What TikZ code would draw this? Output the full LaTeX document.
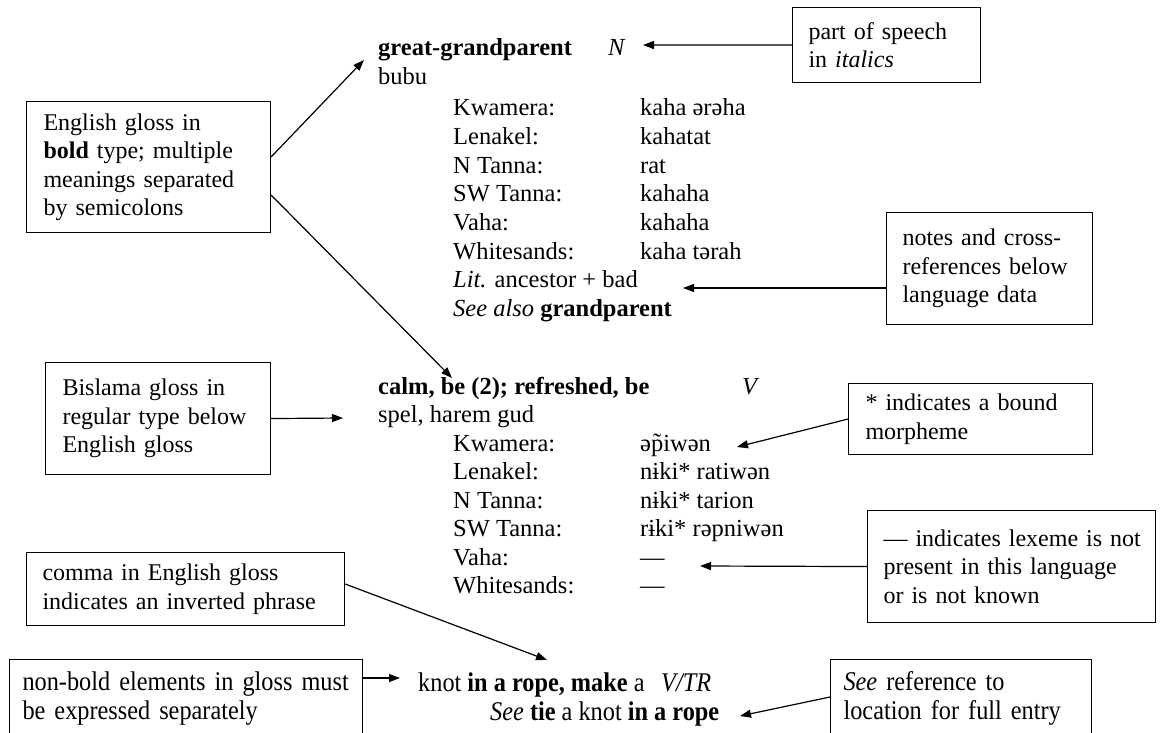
\documentclass[tikz,border=0pt]{standalone}
\usepackage{fontspec}
\setmainfont{Liberation Serif}
\newfontfamily\condfont{Liberation Serif}[FakeStretch=0.9]
\usetikzlibrary{arrows.meta,calc}
\tikzset{
  every node/.style={inner sep=0pt},
  lex/.style={anchor=base west, font=\fontsize{24.5}{28}\selectfont},
  cond/.style={anchor=base west, font=\condfont\fontsize{27}{29}\selectfont},
  boxn/.style={draw, line width=1.1pt, anchor=north west, align=left, inner ysep=0pt, font=\fontsize{24}{28.5}\selectfont},
  cbox/.style={boxn, font=\condfont\fontsize{27}{29}\selectfont, inner ysep=12pt, text depth=40pt},
  arr/.style={line width=1.2pt, -{Triangle[length=11pt,width=8pt]}},
}
\begin{document}
\begin{tikzpicture}[x=1pt,y=-1pt]
\clip (0,0) rectangle (1160,733);
\fill[white] (0,0) rectangle (1160,733);

% ---- entry 1
\node[lex] (e1h) at (378,56) {\textbf{great-grandparent}};
\node[lex] (e1pos) at (608,56) {\textit{N}};
\node[lex] (e1g) at (378,85) {bubu};
\node[lex] (e1l1) at (453,116) {Kwamera:};
\node[lex] (e1f1) at (640,116) {kaha ərəha};
\node[lex] (e1l2) at (453,144.6) {Lenakel:};
\node[lex] (e1f2) at (640,144.6) {kahatat};
\node[lex] (e1l3) at (453,173.2) {N Tanna:};
\node[lex] (e1f3) at (640,173.2) {rat};
\node[lex] (e1l4) at (453,201.8) {SW Tanna:};
\node[lex] (e1f4) at (640,201.8) {kahaha};
\node[lex] (e1l5) at (453,230.4) {Vaha:};
\node[lex] (e1f5) at (640,230.4) {kahaha};
\node[lex] (e1l6) at (453,259) {Whitesands:};
\node[lex] (e1f6) at (640,259) {kaha tərah};
\node[lex] (e1lit) at (453,287.6) {\textit{Lit.} ancestor + bad};
\node[lex] (e1see) at (453,316.2) {\textit{See also} \textbf{grandparent}};

% ---- entry 2
\node[lex] (e2h) at (378,394) {\textbf{calm, be (2); refreshed, be}};
\node[lex] (e2pos) at (742,394) {\textit{V}};
\node[lex] (e2g) at (378,422.5) {spel, harem gud};
\node[lex] (e2l1) at (453,451) {Kwamera:};
\node[lex] (e2f1) at (640,451) {əp̃iwən};
\node[lex] (e2l2) at (453,479.5) {Lenakel:};
\node[lex] (e2f2) at (640,479.5) {nɨki* ratiwən};
\node[lex] (e2l3) at (453,508) {N Tanna:};
\node[lex] (e2f3) at (640,508) {nɨki* tarion};
\node[lex] (e2l4) at (453,536.5) {SW Tanna:};
\node[lex] (e2f4) at (640,536.5) {rɨki* rəpniwən};
\node[lex] (e2l5) at (453,565) {Vaha:};
\node[lex] (e2f5) at (640,565) {—};
\node[lex] (e2l6) at (453,593.5) {Whitesands:};
\node[lex] (e2f6) at (640,593.5) {—};

% ---- entry 3
\node[cond] (e3h) at (418,691) {knot \textbf{in a rope, make} a};
\node[cond] (e3pos) at (661,691) {\textit{V/TR}};
\node[cond] (e3see) at (490,720) {\textit{See} \textbf{tie} a knot \textbf{in a rope}};

% ---- boxes
\node[boxn, inner xsep=17pt, text width=210pt, minimum height=131pt] (eg) at (26,101)
  {English gloss in\\\textbf{bold} type; multiple\\meanings separated\\by semicolons};
\node[boxn, inner xsep=16pt, text width=156pt, minimum height=75pt] (pos) at (792,7)
  {part of speech\\in \textit{italics}};
\node[boxn, inner xsep=16pt, text width=174pt, minimum height=112pt] (notes) at (886,212)
  {notes and cross-\\references below\\language data};
\node[boxn, inner xsep=17pt, text width=191pt, minimum height=112pt] (bis) at (45,362)
  {Bislama gloss in\\regular type below\\English gloss};
\node[boxn, inner xsep=17pt, text width=210pt, minimum height=71pt] (morph) at (848,383)
  {* indicates a bound\\morpheme};
\node[boxn, inner xsep=16pt, text width=256pt, minimum height=112pt] (lexm) at (867,510)
  {\mbox{— indicates lexeme is not}\\present in this language\\or is not known};
\node[boxn, inner xsep=16pt, text width=286pt, minimum height=73pt] (comma) at (26,552)
  {comma in English gloss\\indicates an inverted phrase};
\node[cbox, inner xsep=13pt, text width=327pt] (nb) at (9,659)
  {non-bold elements in gloss must\\be expressed separately};
\node[cbox, inner xsep=13pt, text width=235pt] (sr) at (830,659)
  {\textit{See} reference to\\location for full entry};

% ---- connectors
\coordinate (tN) at (643,45);
\draw[arr] (pos.west) -- (tN);
\coordinate (tG) at (364,60);
\draw[arr] ($(eg.north east)+(0,56)$) -- (tG);
\coordinate (tC) at (452,378);
\draw[arr] ($(eg.north east)+(0,94)$) -- (tC);
\coordinate (tL) at (683,288);
\draw[arr] ($(notes.north west)+(0,76)$) -- (tL);
\coordinate (tS) at (343,418);
\draw[arr] (bis.east) -- (tS);
\coordinate (tM) at (737,447);
\draw[arr] (morph.west) -- (tM);
\coordinate (tV) at (700,566);
\draw[arr] (lexm.west) -- (tV);
\coordinate (tK) at (547,660);
\draw[arr] ($(comma.north east)+(0,32)$) -- (tK);
\coordinate (tNB) at (400,678);
\draw[arr] ($(nb.north east)+(0,19)$) -- (tNB);
\coordinate (tSee) at (740,716);
\draw[arr] ($(sr.north west)+(0,38)$) -- (tSee);
\end{tikzpicture}
\end{document}
